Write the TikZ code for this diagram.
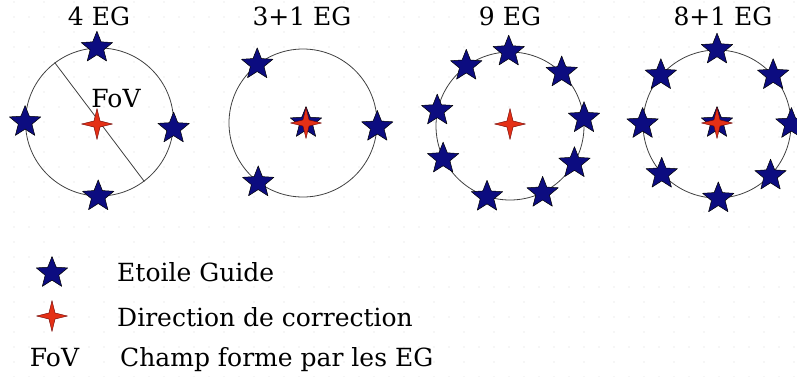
\documentclass[tikz,border=0pt]{standalone}
\usepackage{fontspec}
\setmainfont{DejaVu Serif}
\usetikzlibrary{shapes.geometric}
\definecolor{egblue}{RGB}{12,12,128}
\definecolor{dcred}{RGB}{228,48,22}
\tikzset{eg/.style={star, star points=5, star point ratio=2.3, minimum size=33pt, inner sep=0pt, fill=egblue, draw=black, line width=.5pt},
dc/.style={star, star points=4, star point ratio=3.6, minimum size=31pt, inner sep=0pt, fill=dcred, draw=black!60!red, line width=.4pt},
fov/.style={circle, draw=black!75, line width=.8pt, minimum size=148pt, inner sep=0pt},
lbl/.style={font=\fontsize{25}{30}\selectfont, inner sep=0pt}}
\begin{document}
\begin{tikzpicture}[x=1pt, y=-1pt, font=\fontsize{25}{30}\selectfont, line join=round, line cap=round]
\useasboundingbox (0,0) rectangle (797,376);
\foreach \i in {0,...,53} \foreach \j in {0,...,25} %
{\pgfmathparse{int(mod(\i,2)+mod(\j,2))}\ifnum\pgfmathresult>0 \fill[black!16] (-1+15*\i,2+15*\j) circle (.6);\fi}
\node[fov] (c1) at (99.5,122) {};
\node[fov] (c2) at (303,123) {};
\node[fov] (c3) at (510,126) {};
\node[fov] (c4) at (717,124) {};
\draw[black!75, line width=.8pt] (c1.127)--(c1.-53);
\foreach \k/\x/\t in {1/99/4 EG,2/302/3+1 EG,3/510/9 EG,4/723/8+1 EG} 
\node[anchor=base, inner sep=0pt] (t\k) at (\x,25.5) {\t};
\node[anchor=base, inner sep=0pt] (fv) at (116,107) {FoV};
\foreach \a [count=\k] in {92,180,-5,-91} \node[eg] (a\k) at (c1.\a) {};
\foreach \a [count=\k] in {128,-3,-127} \node[eg] (b\k) at (c2.\a) {};
\foreach \a [count=\k] in {6,46,91,126,168,-154,-108,-64,-30} \node[eg] (e\k) at (c3.\a) {};
\foreach \a [count=\k] in {90,139,41,180,0,-138,-44,-89} \node[eg] (f\k) at (c4.\a) {};
\node[dc] (d1) at (97,124) {};
\node[eg] (b0) at (306,123) {};
\node[dc] (d2) at (b0) {};
\node[dc] (d3) at (510,124) {};
\node[eg] (f0) at (717,123) {};
\node[dc] (d4) at (f0) {};
% legende
\node[eg] (le1) at (52,273) {};
\node[dc] (le2) at (52,316) {};
\node[lbl, anchor=base] (le3) at (54.5,366.5) {FoV};
\node[lbl, anchor=base west] (lt1) at (117,281.5) {Etoile Guide};
\node[lbl, anchor=base west] (lt2) at (117,326.5) {Direction de correction};
\node[lbl, anchor=base west] (lt3) at (120,366.5) {Champ forme par les EG};
\end{tikzpicture}
\end{document}
